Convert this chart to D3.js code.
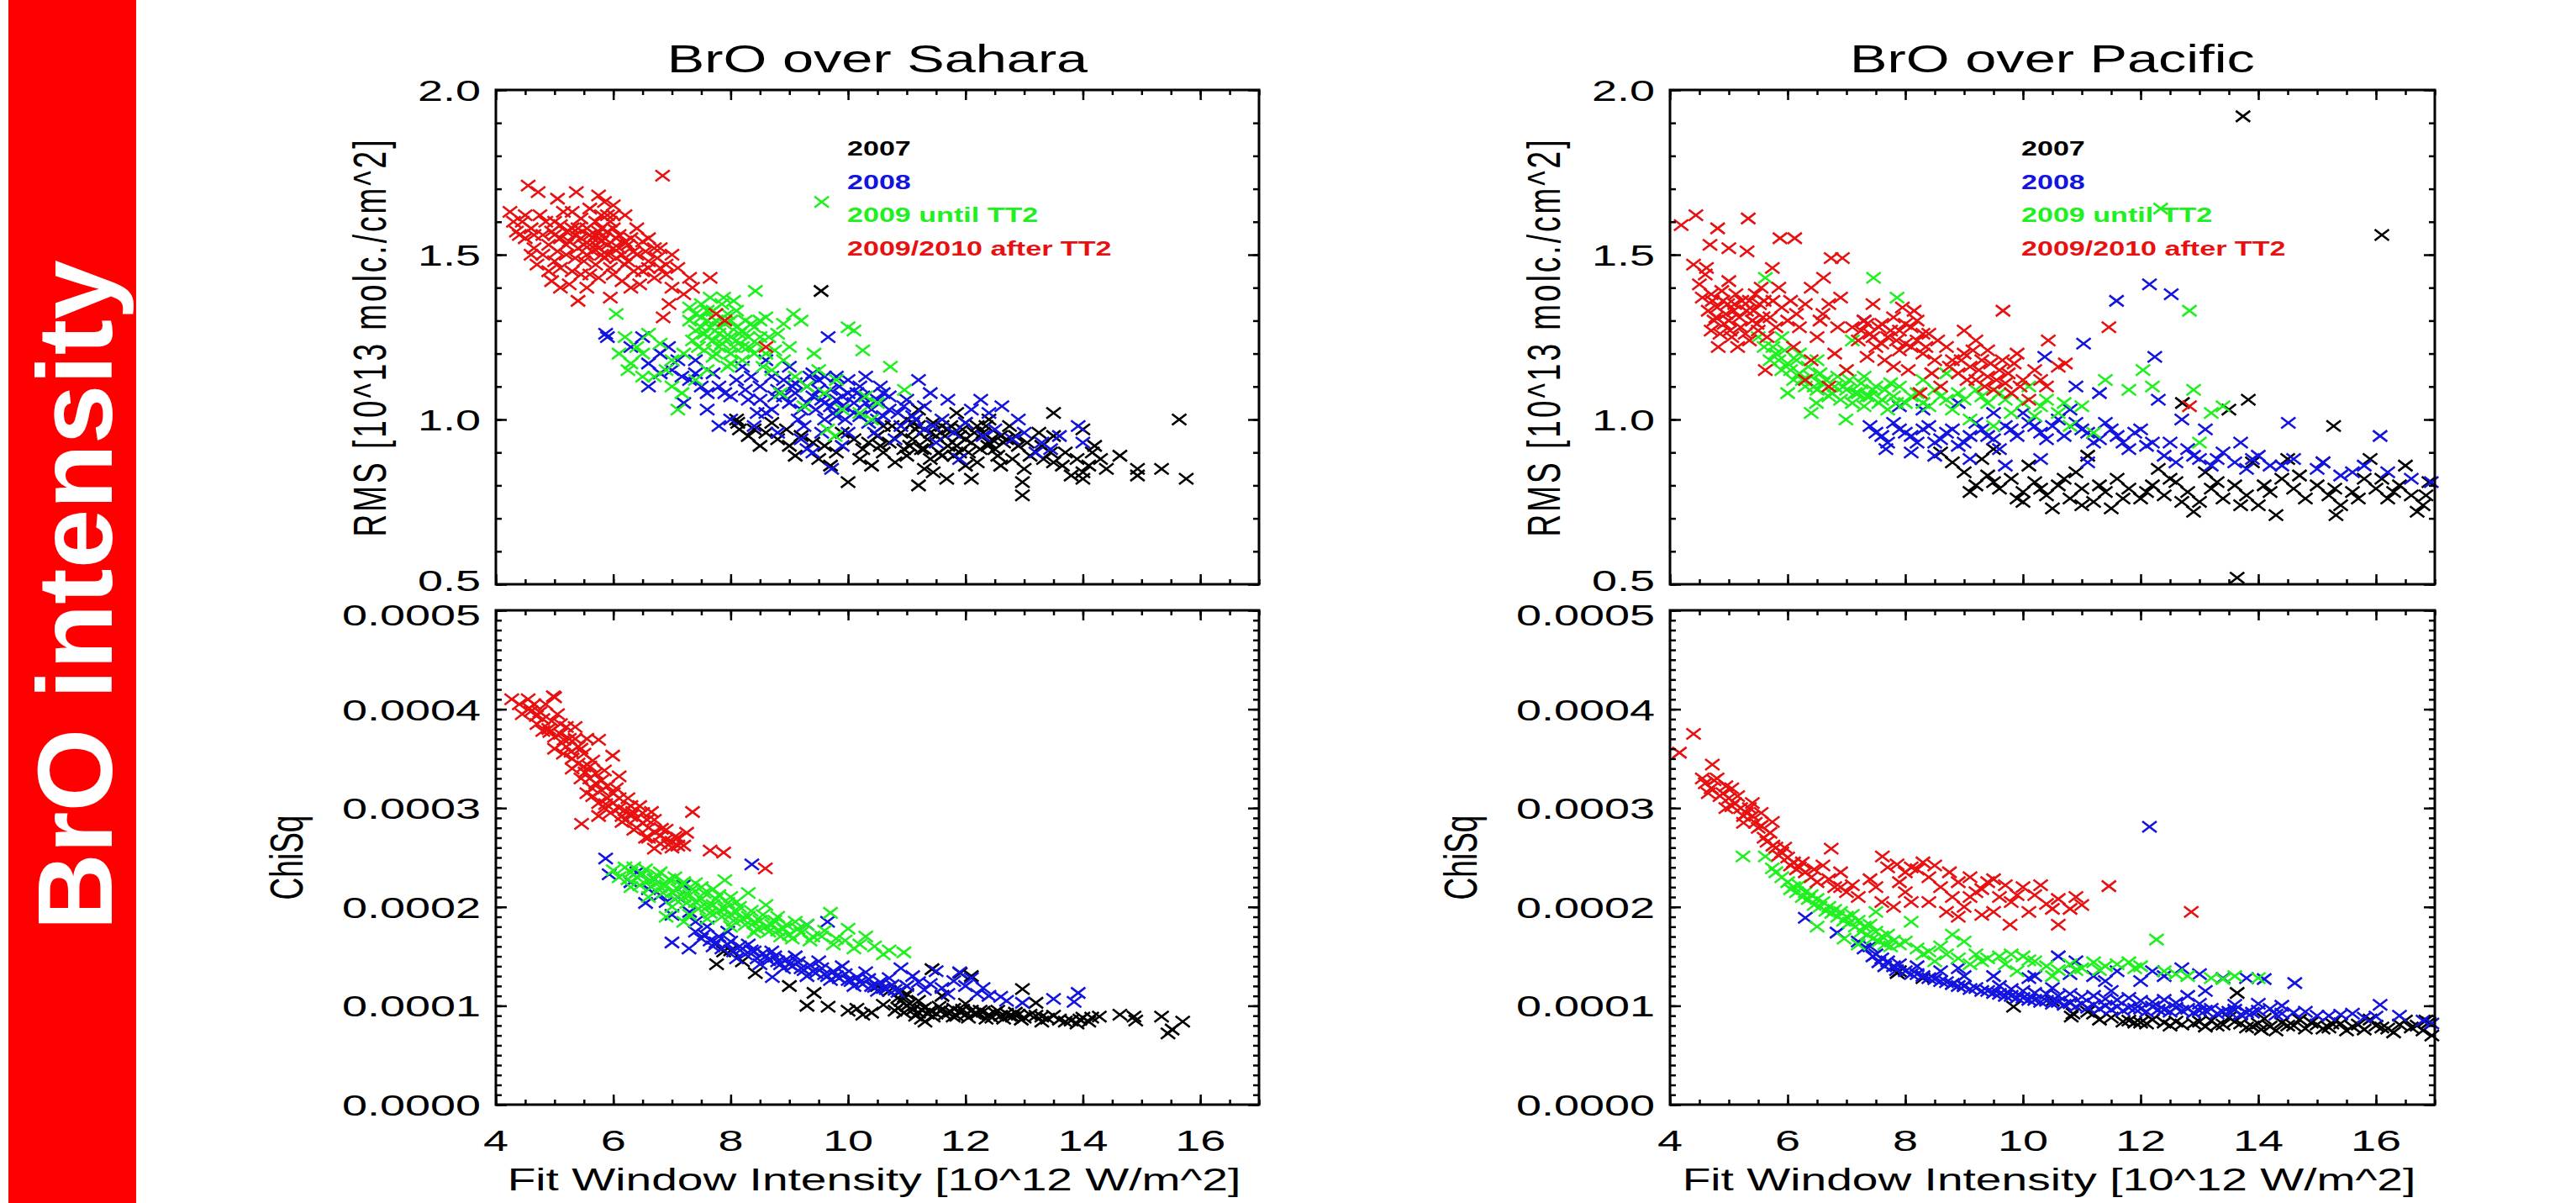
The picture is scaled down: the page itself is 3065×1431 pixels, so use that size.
<!DOCTYPE html>
<html>
<head>
<meta charset="utf-8">
<script src="https://cdn.jsdelivr.net/npm/d3@7"></script>
<style>
  body { margin: 0; background: #fff; }
  svg { display: block; }
</style>
</head>
<body>
<svg id="fig" width="3065" height="1431"></svg>
<script>

// ---------- data (x = fit window intensity [10^12 W/m^2]) ----------
// RMS in 10^13 molc./cm^2, ChiSq in units of 1e-4

var years = ["2007", "2008", "2009 until TT2", "2009/2010 after TT2"];
var yearColors = ["#000000", "#1414e0", "#20f020", "#e81010"];

var xTickLabels = [4, 6, 8, 10, 12, 14, 16];
var rmsTickLabels = [0.5, 1.0, 1.5, 2.0];
var chiTickLabels = [0.0000, 0.0001, 0.0002, 0.0003, 0.0004, 0.0005];

// --- Sahara, RMS ---
var saharaRms2007 = [[9.54,1.39],[15.64,1.0],[15.76,0.82],[15.34,0.85],[14.93,0.85],[14.93,0.83],[14.63,0.89],[14.0,0.84],[14.0,0.82],
  [12.97,0.81],[12.97,0.77],[13.5,1.02],[11.68,0.82],[11.2,0.80],[10.0,0.81],[8.12,0.99],[8.15,0.97],[11.2,0.98],[10.25,0.91],
  [12.38,0.92],[13.33,0.88],[14.16,0.90],[8.95,0.97],[10.5,0.95],[10.7,0.93],[10.9,0.96],[11.1,0.94],[11.3,0.97],[11.5,0.95],
  [11.7,0.92],[11.9,0.95],[12.1,0.93],[12.3,0.96],[12.5,0.91],[12.7,0.94],[12.9,0.92],[13.1,0.89],[13.3,0.92],[13.5,0.87],
  [13.7,0.90],[13.9,0.88],[14.1,0.86],[14.3,0.88],[10.6,0.90],[10.8,0.87],[11.0,0.89],[11.4,0.88],[11.8,0.89],[12.2,0.87],
  [12.6,0.86],[13.0,0.85],[10.4,0.86],[10.2,0.88],[9.8,0.90],[9.6,0.92],[9.4,0.93],[9.2,0.95],[9.0,0.92],[8.8,0.94],[8.6,0.96],
  [8.4,0.97],[8.3,0.95],[9.7,0.86],[11.0,1.0],[11.6,0.98],[12.0,0.99],[12.4,1.0],[10.6,0.98],[11.2,1.03],[11.45,0.84],[12.1,0.82],
  [13.8,0.83],[14.4,0.85],[14.0,0.97],[13.5,0.95],[10.1,0.94],[11.85,1.02],[12.75,0.98],[9.9,0.96],[8.1,1.0],
  [11.05,0.92],[11.15,0.97],[11.25,0.91],[11.35,0.94],[11.45,0.99],[11.55,0.90],[11.65,0.95],[11.75,0.98],[11.85,0.92],
  [11.95,0.97],[12.05,0.90],[12.15,0.96],[12.25,0.91],[12.35,0.98],[12.45,0.94],[12.55,0.89],[12.65,0.93],[12.85,0.95],
  [13.05,0.93],[13.25,0.96],[13.45,0.90],[13.65,0.86],[10.95,0.91],[10.75,0.98],[10.55,0.92],[10.35,0.93],[9.5,0.88],[9.1,0.89],
  [8.7,0.99],[8.5,0.92],[11.3,0.85],[12.0,0.86],[12.8,0.88],[14.2,0.92],[11.1,0.99],[11.4,0.96],[11.7,0.97],[12.0,0.94],
  [12.2,0.98],[12.4,0.93],[12.6,0.95],[11.3,0.91],[11.6,0.89],[11.9,0.90]];
var saharaRms2008 = [[5.87,1.26],[5.9,1.25],[9.66,1.25],[7.17,1.13],[6.94,1.22],[11.2,1.12],[11.4,1.08],[12.26,1.06],[12.62,1.04],
  [13.92,0.98],[9.72,0.85],[9.30,0.91],[13.45,0.91],[11.9,0.88],[6.5,1.25],[6.8,1.20],[6.3,1.22],[6.6,1.17],[7.0,1.15],[7.3,1.12],
  [7.5,1.10],[7.7,1.14],[7.9,1.08],[8.1,1.12],[8.3,1.06],[8.5,1.10],[8.7,1.13],[8.9,1.07],[9.1,1.11],[9.3,1.05],[9.5,1.09],
  [9.7,1.04],[9.9,1.07],[10.1,1.02],[10.3,1.05],[10.5,1.00],[10.7,1.03],[10.9,0.98],[11.1,1.01],[11.3,0.97],[11.6,1.00],
  [11.8,0.96],[12.0,0.99],[12.3,0.95],[12.5,0.97],[12.8,0.94],[13.0,0.96],[13.3,0.93],[13.6,0.95],[14.0,0.93],[7.2,1.05],
  [7.6,1.03],[8.0,1.00],[8.4,0.98],[8.8,0.96],[9.2,0.94],[9.6,1.00],[10.0,0.96],[8.2,1.16],[8.6,1.18],[9.0,1.16],[9.4,1.14],
  [9.8,1.13],[10.2,1.10],[10.6,1.08],[11.0,1.06],[7.4,1.18],[6.6,1.10],[8.7,1.03],[9.15,1.00],[9.55,1.06],[9.85,1.10],
  [10.35,0.99],[8.25,1.09],[7.8,0.98],[10.8,0.94],[11.5,0.93],[12.1,1.03],[12.9,1.00],[13.2,0.90],
  [8.8,1.09],[8.9,1.12],[9.0,1.05],[9.1,1.08],[9.2,1.03],[9.3,1.10],[9.4,1.07],[9.45,1.03],[9.5,1.12],[9.6,1.05],[9.7,1.09],
  [9.75,1.02],[9.8,1.06],[9.9,1.04],[9.95,1.00],[10.0,1.08],[10.1,1.05],[10.2,1.01],[10.25,1.07],[10.4,1.03],[10.5,1.06],
  [10.6,1.01],[8.5,1.06],[8.6,1.02],[8.35,1.13],[8.0,1.07],[7.8,1.10],[7.6,1.08],[7.4,1.14],[7.1,1.18],[6.8,1.14],[9.25,0.98],
  [9.55,0.96],[10.45,0.96],[11.3,1.04],[11.7,1.06],[12.4,1.02],[9.9,0.92],[9.4,0.90],
  [9.6,1.13],[9.8,1.01],[10.0,1.12],[10.15,1.08],[10.3,1.13],[10.55,1.10],[10.7,1.07],[10.85,1.02],[9.35,1.13],[9.05,1.10],
  [8.75,1.07],[8.45,1.02],[10.95,1.04],[11.15,1.00],[11.45,0.98]];
var saharaRms2009 = [[9.55,1.66],[8.42,1.39],[7.88,1.37],[6.05,1.32],[9.07,1.32],[10.0,1.28],[10.25,1.21],[10.72,1.16],[9.42,1.20],
  [6.4,1.22],[6.7,1.13],[7.17,1.08],[9.78,0.95],[10.96,1.09],[8.9,1.29],[9.2,1.30],[8.6,1.31],[8.8,1.26],[9.0,1.22],[9.5,1.15],
  [9.8,1.12],[10.3,1.07],[10.5,1.05],[10.1,1.27],[6.2,1.25],[6.5,1.20],[6.6,1.26],[6.8,1.23],[7.0,1.18],[6.3,1.17],[6.1,1.20],
  [7.4,1.32],[7.5,1.35],[7.6,1.30],[7.7,1.33],[7.8,1.28],[7.9,1.25],[8.0,1.30],[8.1,1.24],[8.2,1.27],[8.3,1.22],[8.4,1.20],
  [7.5,1.28],[7.6,1.25],[7.8,1.22],[8.0,1.20],[8.2,1.18],[8.5,1.25],[8.6,1.20],[8.7,1.15],[7.3,1.30],[7.45,1.22],[7.7,1.19],
  [7.95,1.16],[8.1,1.33],[8.35,1.29],[8.55,1.16],[8.9,1.18],[9.1,1.13],[9.3,1.10],[9.6,1.08],[9.9,1.03],[10.2,1.02],[7.2,1.20],
  [7.0,1.10],[7.4,1.12],[7.6,1.15],[7.1,1.03],[8.85,1.08],[9.25,1.04],[9.65,0.97],[10.4,1.0],[7.85,1.35],[8.05,1.36],[7.65,1.37],
  [7.5,1.31],[7.55,1.26],[7.6,1.33],[7.65,1.28],[7.7,1.24],[7.75,1.30],[7.8,1.26],[7.85,1.23],[7.9,1.29],[7.95,1.32],[8.0,1.25],
  [8.05,1.22],[8.1,1.28],[8.15,1.26],[8.2,1.22],[8.25,1.30],[8.3,1.25],[8.4,1.28],[8.45,1.23],[7.4,1.27],[7.35,1.24],[7.55,1.21],
  [7.75,1.20],[8.0,1.17],[7.3,1.34],[8.5,1.30],[8.65,1.25],[8.75,1.21],[6.9,1.15],[6.5,1.13],[6.25,1.15]];
var saharaRms2010 = [[4.24,1.63],[4.55,1.71],[4.72,1.69],[5.05,1.67],[5.37,1.69],[6.84,1.74],[4.45,1.60],[4.35,1.57],[5.75,1.68],
  [5.85,1.66],[6.0,1.65],[5.6,1.64],[6.2,1.62],[6.4,1.58],[6.6,1.55],[6.8,1.52],[7.0,1.50],[6.9,1.47],[7.3,1.43],[7.65,1.43],
  [6.95,1.35],[6.85,1.31],[7.35,1.40],[7.75,1.32],[7.9,1.30],[8.6,1.22],[5.4,1.36],[5.95,1.37],[6.3,1.40],[5.1,1.40],[4.9,1.45],
  [4.6,1.50],[4.5,1.55],[4.6,1.58],[4.8,1.56],[4.9,1.53],[5.0,1.60],[5.1,1.55],[5.2,1.50],[5.3,1.58],[5.4,1.52],[5.5,1.48],
  [5.6,1.56],[5.7,1.60],[5.8,1.54],[5.9,1.50],[6.0,1.58],[6.1,1.52],[6.2,1.47],[6.3,1.55],[6.4,1.50],[6.5,1.45],[6.6,1.48],
  [6.7,1.43],[5.0,1.48],[5.3,1.45],[5.6,1.44],[5.8,1.62],[5.9,1.57],[5.75,1.52],[5.85,1.49],[6.05,1.55],[5.65,1.51],[4.75,1.62],
  [5.15,1.63],[5.45,1.61],[4.95,1.42],[5.25,1.41],[5.55,1.40],[6.15,1.42],[6.45,1.41],[6.9,1.44],[7.1,1.46],[4.7,1.47],[5.05,1.51],
  [5.35,1.49],[5.95,1.46],[6.25,1.53],[6.55,1.51],[6.75,1.49],[5.7,1.47],[5.5,1.53],[5.2,1.57],
  [4.5,1.62],[4.65,1.56],[4.85,1.60],[4.95,1.57],[5.1,1.59],[5.25,1.54],[5.35,1.56],[5.45,1.55],[5.55,1.58],[5.65,1.55],
  [5.7,1.53],[5.75,1.57],[5.8,1.50],[5.85,1.55],[5.9,1.53],[5.95,1.60],[6.0,1.52],[6.05,1.49],[6.1,1.56],[6.15,1.50],[6.2,1.54],
  [6.25,1.48],[6.35,1.51],[6.5,1.54],[6.6,1.46],[6.7,1.52],[6.8,1.46],[5.55,1.50],[5.6,1.53],[5.7,1.56],[5.8,1.58],[5.9,1.62],
  [6.0,1.62],[5.4,1.58],[5.2,1.53],[5.0,1.56],[4.8,1.50],[4.65,1.52],[4.4,1.56],[4.3,1.60],[5.3,1.63],[5.1,1.46],[5.45,1.44],
  [5.75,1.43],[6.0,1.44],[6.35,1.45],[7.2,1.38],[7.0,1.40]];

// --- Sahara, ChiSq (1e-4) ---
var saharaChi2007 = [[7.88,1.55],[7.76,1.42],[8.0,1.56],[8.42,1.33],[9.42,1.13],[9.66,0.99],[10.25,0.91],[10.60,1.01],[10.96,1.09],
  [11.31,0.84],[11.79,0.89],[11.91,1.33],[11.43,1.37],[12.97,1.17],[13.2,1.03],[14.28,0.89],[14.63,0.91],[14.87,0.89],[14.9,0.85],
  [15.34,0.89],[15.52,0.76],[15.45,0.72],[15.70,0.84],[10.0,0.95],[10.4,0.93],[10.8,0.95],[10.9,1.05],[11.0,1.00],[11.1,0.96],
  [11.2,0.93],[11.3,0.98],[11.4,0.95],[11.5,0.92],[11.6,0.96],[11.7,0.93],[11.8,0.97],[11.9,0.94],[12.0,0.91],[12.1,0.95],
  [12.2,0.92],[12.3,0.94],[12.4,0.91],[12.5,0.93],[12.6,0.90],[12.7,0.92],[12.8,0.89],[12.9,0.91],[13.0,0.88],[13.2,0.90],
  [13.4,0.87],[13.6,0.86],[13.8,0.85],[14.0,0.88],[14.1,0.84],[13.9,0.82],[11.0,1.12],[10.7,1.15],[10.5,1.20],[11.2,1.05],
  [12.0,1.02],[11.6,1.10],[12.1,1.30],[8.2,1.45],[9.0,1.20],[9.3,1.00],[10.15,0.97],[11.25,0.87],[12.35,0.87],[13.3,0.84],
  [10.85,0.98],[10.95,0.93],[11.05,1.02],[11.15,0.90],[11.25,0.96],[11.35,0.92],[11.45,0.89],[11.55,0.99],[11.65,0.91],
  [11.75,0.94],[11.85,0.90],[11.95,0.96],[12.05,0.88],[12.15,0.92],[12.25,0.95],[12.45,0.88],[12.55,0.95],[12.65,0.87],
  [12.75,0.90],[12.85,0.93],[12.95,0.86],[13.1,0.91],[13.3,0.89],[13.5,0.90],[13.7,0.84],[13.95,0.86],[14.15,0.88],[10.9,1.15],
  [10.85,1.08]];
var saharaChi2008 = [[5.87,2.49],[5.93,2.33],[6.55,2.04],[7.0,1.64],[7.29,1.58],[8.36,2.43],[9.30,1.82],[8.71,1.29],[12.97,1.03],
  [13.5,1.07],[13.92,1.13],[13.85,1.04],[6.3,2.25],[6.6,2.18],[6.9,2.05],[7.1,2.10],[7.3,1.95],[7.6,1.80],[7.8,1.70],[8.0,1.65],
  [8.2,1.58],[8.4,1.55],[8.6,1.50],[8.8,1.45],[9.0,1.42],[9.2,1.38],[9.4,1.35],[9.6,1.32],[9.8,1.30],[10.0,1.26],[10.2,1.24],
  [10.4,1.20],[10.6,1.18],[10.8,1.16],[11.0,1.20],[11.2,1.24],[11.4,1.22],[11.6,1.18],[11.8,1.25],[12.0,1.20],[12.2,1.12],
  [12.4,1.10],[12.6,1.09],[8.1,1.48],[8.5,1.42],[8.9,1.38],[9.3,1.30],[9.7,1.26],[10.1,1.20],[10.5,1.15],[9.5,1.45],[9.9,1.40],
  [10.3,1.34],[10.7,1.28],[11.1,1.30],[11.5,1.35],[9.1,1.50],[8.7,1.55],[8.3,1.62],[7.7,1.60],[7.95,1.75],[12.1,1.28],[11.9,1.34],
  [10.9,1.38],[9.65,1.85],[7.5,1.68],[7.2,2.22],[6.4,2.35],[6.7,2.28],
  [7.4,1.75],[7.55,1.72],[7.65,1.66],[7.75,1.64],[7.85,1.58],[7.95,1.62],[8.05,1.55],[8.15,1.60],[8.25,1.52],[8.35,1.56],
  [8.45,1.48],[8.55,1.53],[8.65,1.46],[8.75,1.50],[8.85,1.42],[8.95,1.47],[9.05,1.40],[9.15,1.44],[9.25,1.36],[9.35,1.41],
  [9.45,1.33],[9.55,1.38],[9.65,1.30],[9.75,1.35],[9.85,1.28],[9.95,1.32],[10.05,1.25],[10.15,1.29],[10.25,1.22],[10.35,1.27],
  [10.45,1.19],[10.55,1.24],[10.65,1.17],[10.75,1.21],[10.85,1.14],[11.3,1.16],[11.7,1.12],[12.3,1.18],[12.7,1.05],[6.8,2.12],
  [7.0,1.92],[7.4,1.85]];
var saharaChi2009 = [[6.0,2.37],[6.2,2.40],[6.3,2.35],[6.4,2.30],[6.5,2.33],[6.6,2.26],[6.7,2.28],[6.8,2.20],[6.9,2.22],[7.0,2.15],
  [7.1,2.18],[7.2,2.10],[7.3,2.12],[7.4,2.05],[7.5,2.08],[7.6,2.00],[7.7,2.02],[7.8,1.96],[7.9,1.98],[8.0,1.92],[8.1,1.95],
  [8.2,1.88],[8.3,1.90],[8.4,1.84],[8.5,1.86],[8.6,1.80],[8.7,1.82],[8.8,1.76],[8.9,1.78],[9.0,1.72],[9.2,1.74],[9.4,1.70],
  [9.6,1.76],[9.7,1.94],[9.8,1.68],[10.0,1.78],[10.2,1.62],[10.3,1.70],[10.7,1.56],[10.95,1.54],[7.9,2.27],[8.3,2.14],[8.6,2.02],
  [9.3,1.82],[6.3,2.20],[6.6,2.10],[7.0,2.00],[7.3,1.92],[7.6,1.88],[8.0,1.80],[8.4,1.74],[7.2,2.25],[7.5,2.20],[7.8,2.12],
  [8.1,2.05],[8.8,1.90],[9.1,1.85],[6.8,2.35],[7.2,1.85],[6.9,1.90],
  [6.1,2.30],[6.25,2.28],[6.35,2.40],[6.45,2.22],[6.55,2.38],[6.65,2.20],[6.75,2.32],[6.85,2.14],[6.95,2.28],[7.05,2.08],
  [7.15,2.22],[7.25,2.04],[7.35,2.18],[7.45,1.98],[7.55,2.14],[7.65,1.94],[7.75,2.08],[7.85,1.90],[7.95,2.04],[8.05,1.86],
  [8.15,2.00],[8.25,1.82],[8.35,1.96],[8.45,1.78],[8.55,1.92],[8.65,1.75],[8.75,1.86],[8.85,1.70],[8.95,1.82],[9.05,1.68],
  [9.15,1.78],[9.35,1.66],[9.55,1.70],[9.75,1.62],[9.95,1.66],[10.1,1.58],[10.45,1.60],[10.6,1.52],[7.05,2.30],[7.4,2.24],
  [7.7,2.18],[8.0,2.10]];
var saharaChi2010 = [[4.27,4.10],[4.98,4.13],[4.57,4.01],[4.69,3.93],[4.92,3.77],[5.16,3.69],[5.28,3.57],[5.52,3.36],[5.75,3.69],
  [5.99,3.53],[5.64,3.20],[5.87,3.04],[6.10,3.32],[6.33,2.96],[6.58,2.88],[6.82,2.79],[7.05,2.71],[7.35,2.96],[6.94,2.63],
  [7.65,2.57],[7.88,2.55],[8.59,2.39],[5.46,2.84],[5.75,2.92],[6.70,2.59],[4.4,4.05],[4.6,3.98],[4.7,3.85],[4.8,3.90],[4.9,3.80],
  [5.0,3.72],[5.1,3.75],[5.2,3.62],[5.3,3.50],[5.4,3.45],[5.5,3.42],[5.6,3.30],[5.7,3.25],[5.8,3.18],[5.9,3.10],[6.0,3.05],
  [6.1,3.00],[6.2,2.98],[6.3,2.92],[6.4,2.90],[6.5,2.85],[6.6,2.80],[6.7,2.76],[6.8,2.72],[6.9,2.68],[7.0,2.66],[7.1,2.70],
  [7.2,2.62],[5.05,3.95],[5.2,3.82],[5.45,3.60],[5.65,3.48],[5.85,3.38],[6.05,3.20],[6.25,3.10],[6.45,3.02],[6.65,2.96],
  [5.55,3.15],[5.75,3.05],[6.15,2.86],[6.35,2.78],[6.55,2.70],[4.55,4.10],[4.85,4.05],[5.0,4.12],[5.35,3.70],
  [4.45,3.95],[4.65,4.05],[4.75,3.97],[4.8,3.78],[4.95,3.88],[5.0,3.60],[5.1,3.85],[5.15,3.55],[5.25,3.70],[5.3,3.40],[5.4,3.62],
  [5.45,3.30],[5.5,3.55],[5.6,3.42],[5.65,3.12],[5.7,3.35],[5.8,3.28],[5.85,3.00],[5.9,3.22],[6.0,3.15],[6.1,3.10],[6.2,2.88],
  [6.3,3.02],[6.4,2.80],[6.5,2.95],[6.6,2.70],[6.7,2.88],[6.8,2.64],[6.9,2.78],[7.0,2.60],[7.1,2.62],[7.25,2.75],[5.95,2.95],
  [6.15,2.92],[5.35,3.82],[5.55,3.70]];

// --- Pacific, RMS ---
var pacificRms2007 = [[13.74,1.92],[16.1,1.56],[13.64,0.52],[15.28,0.98],[13.83,1.06],[12.71,1.05],[13.5,1.03],[15.32,0.71],
  [8.8,0.87],[9.0,0.84],[9.2,0.80],[9.4,0.83],[9.6,0.79],[9.8,0.82],[10.0,0.78],[10.2,0.81],[10.4,0.77],[10.6,0.80],[10.8,0.76],
  [11.0,0.79],[11.2,0.75],[11.4,0.78],[11.6,0.82],[11.8,0.79],[12.0,0.76],[12.2,0.80],[12.4,0.77],[12.6,0.81],[12.8,0.78],
  [13.0,0.75],[13.2,0.79],[13.4,0.76],[13.6,0.80],[13.8,0.77],[14.0,0.74],[14.2,0.78],[14.4,0.82],[14.6,0.79],[14.8,0.76],
  [15.0,0.80],[15.2,0.77],[15.4,0.74],[15.6,0.78],[15.8,0.82],[16.0,0.79],[16.2,0.76],[16.4,0.80],[16.6,0.77],[16.8,0.74],
  [16.9,0.81],[9.3,0.88],[10.1,0.86],[10.9,0.84],[11.5,0.73],[12.3,0.85],[13.1,0.84],[13.9,0.87],[14.5,0.88],[15.1,0.87],
  [15.9,0.88],[16.5,0.86],[11.1,0.89],[12.9,0.72],[14.3,0.71],[16.7,0.72],[10.5,0.73],[8.6,0.90],[9.5,0.91],
  [9.1,0.78],[9.5,0.81],[9.9,0.76],[10.3,0.79],[10.7,0.82],[11.3,0.80],[11.7,0.76],[12.1,0.78],[12.5,0.82],[12.7,0.75],
  [13.3,0.81],[13.7,0.74],[14.1,0.80],[14.7,0.83],[15.3,0.79],[15.7,0.76],[16.1,0.82],[16.3,0.78],[16.85,0.77],[10.0,0.75],
  [11.0,0.74]];
var pacificRms2008 = [[7.3,1.30],[12.15,1.41],[11.59,1.36],[12.52,1.38],[11.03,1.23],[12.24,1.19],[10.37,1.19],[14.51,0.99],
  [16.07,0.95],[16.94,0.81],[7.67,0.91],[7.4,0.98],[7.6,0.95],[7.8,0.99],[8.0,0.96],[8.2,0.93],[8.4,0.98],[8.6,0.94],[8.8,0.97],
  [9.0,0.93],[9.2,0.99],[9.4,0.95],[9.6,0.91],[9.8,0.97],[10.0,1.02],[10.2,0.98],[10.4,0.94],[10.6,1.00],[10.8,1.03],[11.0,0.97],
  [11.2,0.93],[11.4,0.99],[11.6,0.95],[11.8,0.91],[12.0,0.97],[12.2,0.93],[12.4,0.89],[12.6,0.87],[12.8,0.91],[13.0,0.88],
  [13.2,0.86],[13.4,0.90],[13.6,0.87],[13.8,0.85],[14.0,0.89],[14.2,0.86],[14.6,0.88],[15.0,0.85],[15.4,0.83],[15.8,0.86],
  [16.2,0.84],[16.6,0.82],[8.1,0.90],[8.5,0.89],[9.1,0.88],[9.7,0.86],[8.3,1.03],[8.9,1.05],[9.5,1.02],[10.9,1.10],[11.3,1.08],
  [12.7,1.00],[13.1,0.97],[10.3,0.88],[11.1,0.87],[7.9,1.04],[12.3,1.06],[13.7,0.93],
  [7.5,0.96],[7.7,0.93],[7.9,0.97],[8.1,0.95],[8.3,0.97],[8.5,0.93],[8.7,0.96],[8.9,0.92],[9.1,0.95],[9.3,0.97],[9.5,0.94],
  [9.7,0.98],[9.9,0.95],[10.1,0.99],[10.3,0.96],[10.5,0.98],[10.7,0.95],[10.9,0.99],[11.1,0.96],[11.3,0.94],[11.5,0.97],
  [11.7,0.93],[11.9,0.96],[12.1,0.92],[12.5,0.93],[12.9,0.89],[13.3,0.88],[13.9,0.88],[14.4,0.86],[15.1,0.87],[15.6,0.84]];
var pacificRms2009 = [[5.62,1.43],[7.46,1.43],[7.86,1.37],[12.34,1.64],[12.83,1.33],[12.04,1.15],[6.99,1.0],[6.49,1.05],[5.5,1.25],
  [5.6,1.22],[5.7,1.18],[5.8,1.20],[5.9,1.15],[6.0,1.17],[6.1,1.12],[6.2,1.14],[6.3,1.10],[6.4,1.13],[6.5,1.09],[6.6,1.11],
  [6.7,1.07],[6.8,1.10],[6.9,1.06],[7.0,1.09],[7.1,1.05],[7.2,1.08],[7.3,1.04],[7.4,1.07],[7.5,1.10],[7.6,1.06],[7.7,1.03],
  [7.8,1.07],[7.9,1.10],[8.0,1.05],[8.2,1.08],[8.4,1.04],[8.6,1.07],[8.8,1.03],[9.0,1.06],[9.2,1.09],[9.4,1.05],[9.6,1.08],
  [9.8,1.02],[10.0,1.05],[10.2,1.01],[10.4,1.06],[10.6,1.02],[10.8,0.98],[11.0,1.04],[11.4,1.12],[11.8,1.09],[12.2,1.10],
  [12.9,1.09],[13.2,1.02],[13.4,1.04],[13.0,0.93],[5.9,1.25],[6.2,1.20],[6.5,1.18],[6.0,1.08],[7.0,1.15],[7.3,1.13],[8.3,1.12],
  [8.7,1.14],[9.1,1.00],[10.1,1.10],[7.1,1.24],[6.4,1.02],[11.2,0.96],[9.5,0.98],
  [5.75,1.22],[5.85,1.18],[5.95,1.21],[6.05,1.15],[6.15,1.18],[6.25,1.12],[6.35,1.16],[6.45,1.10],[6.55,1.14],[6.65,1.12],
  [6.75,1.08],[6.85,1.13],[6.95,1.10],[7.05,1.12],[7.15,1.08],[7.25,1.11],[7.35,1.07],[7.45,1.09],[7.55,1.05],[7.65,1.09],
  [7.75,1.11],[7.85,1.05],[8.1,1.07],[8.3,1.05],[8.5,1.09],[8.7,1.06],[8.9,1.08],[9.3,1.07],[9.7,1.06],[10.3,1.04],[10.7,1.05]];
var pacificRms2010 = [[4.19,1.59],[4.44,1.62],[4.81,1.58],[5.33,1.61],[4.68,1.53],[5.0,1.52],[5.31,1.51],[5.87,1.55],[6.12,1.55],
  [6.74,1.49],[6.93,1.49],[6.61,1.43],[5.74,1.46],[4.50,1.41],[4.62,1.46],[5.62,1.15],[9.66,1.33],[11.46,1.28],[10.72,1.17],
  [10.43,1.24],[12.83,1.04],[4.4,1.47],[4.55,1.37],[4.7,1.38],[4.8,1.34],[4.9,1.36],[5.0,1.30],[5.1,1.35],[5.2,1.28],[4.75,1.30],
  [4.85,1.26],[4.95,1.32],[5.05,1.25],[5.3,1.33],[5.4,1.30],[5.5,1.27],[5.6,1.36],[5.7,1.31],[5.8,1.28],[5.9,1.34],[6.0,1.30],
  [5.45,1.38],[5.65,1.25],[4.65,1.33],[5.15,1.22],[5.55,1.40],[5.0,1.42],[4.6,1.44],[6.2,1.28],[6.3,1.35],[6.5,1.25],[6.6,1.32],
  [6.8,1.20],[6.9,1.37],[6.4,1.18],[6.1,1.22],[7.0,1.15],[6.7,1.10],[6.3,1.12],[6.85,1.28],[7.1,1.28],[7.2,1.24],[7.3,1.30],
  [7.4,1.26],[7.5,1.22],[7.6,1.29],[7.7,1.25],[7.8,1.31],[7.9,1.27],[8.0,1.23],[8.1,1.28],[8.2,1.24],[8.3,1.20],[8.4,1.26],
  [7.35,1.19],[7.65,1.18],[7.95,1.34],[8.15,1.33],[8.5,1.18],[7.8,1.16],[8.05,1.15],[7.45,1.35],[8.7,1.22],[8.8,1.18],[8.9,1.14],
  [9.0,1.20],[9.1,1.16],[9.2,1.12],[9.3,1.18],[9.4,1.13],[9.5,1.09],[9.6,1.15],[9.7,1.11],[9.8,1.08],[10.0,1.12],[10.2,1.15],
  [10.4,1.10],[9.0,1.27],[9.2,1.24],[8.6,1.10],[9.4,1.21],[10.1,1.06],[10.6,1.16],[9.9,1.20],[8.45,1.14],[8.25,1.08],
  [4.72,1.36],[4.78,1.31],[4.88,1.39],[4.92,1.29],[4.98,1.35],[5.02,1.27],[5.08,1.33],[5.12,1.38],[5.18,1.31],[5.22,1.36],
  [5.28,1.26],[5.35,1.36],[5.42,1.33],[5.48,1.29],[5.52,1.35],[5.58,1.31],[4.82,1.22],[4.7,1.27],[5.35,1.24],[5.75,1.36],
  [5.85,1.40],[6.05,1.36],[6.15,1.32],[6.4,1.40],[6.55,1.30],[6.7,1.35],[7.25,1.27],[7.35,1.29],[7.45,1.25],[7.55,1.28],
  [7.6,1.23],[7.75,1.27],[7.85,1.24],[7.9,1.21],[8.0,1.29],[8.1,1.22],[8.2,1.30],[8.3,1.26],[8.35,1.22],[8.55,1.24],[8.75,1.16],
  [8.95,1.18],[9.05,1.12],[9.15,1.21],[9.25,1.15],[9.35,1.10],[9.45,1.17],[9.55,1.12],[9.65,1.18],[9.75,1.14],[9.85,1.17],
  [9.95,1.10],[10.3,1.12]];

// --- Pacific, ChiSq (1e-4) ---
var pacificChi2007 = [[7.86,1.33],[7.9,1.35],[8.3,1.28],[8.8,1.22],[9.0,1.20],[9.84,0.99],[10.82,0.89],[10.85,0.92],[13.64,1.13],
  [10.5,1.05],[10.8,1.03],[11.2,0.92],[11.5,0.88],[11.8,0.85],[12.0,0.83],[12.2,0.86],[12.6,0.84],[12.9,0.82],[13.2,0.85],
  [13.4,0.81],[13.6,0.84],[13.8,0.78],[14.0,0.82],[14.2,0.79],[14.4,0.83],[14.6,0.80],[14.8,0.77],[15.0,0.81],[15.2,0.78],
  [15.4,0.82],[15.6,0.79],[15.8,0.76],[16.0,0.80],[16.2,0.77],[16.4,0.81],[16.6,0.78],[16.8,0.75],[16.95,0.70],[16.9,0.83],
  [16.5,0.85],[15.9,0.86],[15.3,0.85],[14.7,0.86],[14.1,0.87],[13.5,0.88],[12.5,0.80],[13.1,0.79],[14.3,0.75],[15.5,0.75],
  [16.3,0.73],[11.9,0.83],[11.1,0.94],
  [11.3,0.86],[11.7,0.84],[12.1,0.82],[12.4,0.83],[12.7,0.81],[13.0,0.84],[13.3,0.80],[13.7,0.82],[13.9,0.79],[14.5,0.80],
  [14.9,0.83],[15.1,0.77],[15.7,0.81],[16.1,0.78],[16.7,0.80],[16.85,0.85],[14.05,0.76],[15.25,0.82]];
var pacificChi2008 = [[6.30,1.89],[6.84,1.74],[12.15,2.81],[14.62,1.23],[16.07,1.01],[7.2,1.65],[7.3,1.58],[7.4,1.60],[7.5,1.52],
  [7.6,1.48],[7.7,1.45],[7.8,1.40],[7.9,1.42],[8.0,1.35],[8.2,1.32],[8.4,1.28],[8.6,1.25],[8.8,1.22],[9.0,1.20],[9.2,1.18],
  [9.4,1.15],[9.6,1.12],[9.8,1.10],[10.0,1.08],[10.2,1.06],[10.4,1.05],[10.6,1.04],[10.8,1.03],[11.0,1.02],[11.2,1.01],[11.4,1.00],
  [11.6,0.99],[11.8,0.98],[12.0,0.97],[12.2,0.99],[12.4,0.96],[12.6,0.98],[12.8,0.97],[13.0,0.95],[13.2,0.97],[13.4,0.94],
  [13.6,0.96],[13.8,0.93],[14.0,0.95],[14.2,0.97],[14.4,0.92],[14.8,0.94],[15.2,0.90],[15.6,0.92],[16.0,0.89],[16.4,0.90],
  [16.8,0.85],[16.95,0.82],[10.6,1.50],[10.9,1.45],[11.2,1.30],[11.6,1.35],[12.0,1.25],[12.4,1.30],[12.7,1.38],[13.4,1.28],
  [13.8,1.28],[14.1,1.27],[9.5,1.30],[10.1,1.28],[8.9,1.38],[10.5,1.18],[11.5,1.15],[12.8,1.10],[13.1,1.15],
  [7.45,1.50],[7.55,1.44],[7.65,1.40],[7.85,1.36],[8.1,1.32],[8.3,1.30],[8.5,1.27],[8.7,1.24],[8.9,1.20],[9.1,1.17],[9.3,1.15],
  [9.5,1.13],[9.7,1.10],[9.9,1.08],[10.1,1.06],[10.3,1.04],[10.5,1.02],[10.7,1.01],[10.9,0.99],[11.1,0.98],[11.3,0.97],
  [11.5,0.96],[11.7,0.95],[11.9,0.97],[12.1,0.94],[12.3,0.96],[12.5,0.94],[12.7,0.95],[12.9,0.93],[13.1,0.95],[13.3,0.92],
  [13.5,0.94],[13.7,0.91],[13.9,0.93],[14.3,0.91],[14.6,0.93],[15.0,0.90],[15.4,0.91],[15.8,0.88],
  [9.6,1.20],[9.8,1.17],[10.0,1.15],[10.2,1.13],[10.4,1.12],[10.6,1.10],[10.8,1.12],[11.0,1.09],[11.2,1.10],[11.4,1.07],
  [11.6,1.06],[11.8,1.08],[12.0,1.05],[12.2,1.04],[12.4,1.06],[12.6,1.03],[13.0,1.02],[13.6,1.01],[14.0,1.02],[14.4,1.00],
  [10.2,1.30],[10.8,1.32],[11.4,1.25],[12.2,1.35],[13.0,1.32],[8.2,1.40],[8.6,1.35],[9.0,1.30]];
var pacificChi2009 = [[5.24,2.51],[5.62,2.51],[5.74,2.39],[5.8,2.35],[5.9,2.30],[6.0,2.25],[6.1,2.20],[6.2,2.22],[6.3,2.15],
  [6.4,2.12],[6.5,2.08],[6.6,2.05],[6.7,2.00],[6.8,1.97],[6.9,1.95],[7.0,1.90],[7.1,1.92],[7.2,1.86],[7.3,1.80],[7.4,1.82],
  [7.5,1.75],[7.6,1.70],[7.7,1.72],[7.8,1.66],[7.9,1.62],[8.0,1.65],[8.2,1.58],[8.4,1.55],[8.6,1.60],[8.8,1.72],[9.0,1.65],
  [9.2,1.52],[9.4,1.48],[9.6,1.50],[9.8,1.52],[10.0,1.50],[10.2,1.45],[10.4,1.40],[10.6,1.36],[10.8,1.42],[11.0,1.38],
  [11.2,1.44],[11.4,1.40],[11.6,1.42],[11.8,1.44],[12.0,1.40],[12.27,1.67],[12.4,1.35],[12.8,1.30],[13.2,1.28],[13.6,1.30],
  [14.0,1.28],[6.96,1.68],[7.2,1.62],[6.5,1.80],[8.5,1.45],[9.1,1.42],[9.9,1.35],[10.5,1.30],[7.5,1.95],[8.1,1.85],[8.7,1.52],
  [6.05,2.18],[6.15,2.15],[6.25,2.10],[6.35,2.08],[6.45,2.02],[6.55,2.00],[6.65,1.96],[6.75,1.94],[6.85,1.90],[6.95,1.86],
  [7.05,1.84],[7.15,1.80],[7.25,1.75],[7.35,1.72],[7.45,1.68],[7.55,1.65],[7.65,1.62],[7.75,1.60],[8.3,1.52],[8.9,1.48],
  [9.3,1.45],[9.7,1.42],[10.1,1.46],[10.9,1.36],[11.3,1.36],[11.9,1.38],[12.6,1.32],[13.4,1.27]];
var pacificChi2010 = [[4.16,3.56],[4.40,3.75],[4.72,3.44],[4.6,3.25],[4.7,3.20],[4.8,3.30],[4.9,3.15],[5.0,3.10],[5.1,3.05],
  [5.2,3.00],[5.3,2.95],[5.4,2.92],[5.5,2.80],[5.6,2.70],[5.7,2.75],[5.74,2.86],[5.8,2.60],[5.9,2.55],[6.0,2.50],[6.1,2.45],
  [6.2,2.40],[6.3,2.35],[6.4,2.30],[6.5,2.25],[6.6,2.42],[6.74,2.59],[6.8,2.20],[7.0,2.15],[7.2,2.10],[7.4,2.28],[7.6,2.05],
  [7.61,2.51],[7.86,2.43],[7.7,2.40],[8.0,2.35],[8.2,2.38],[8.4,2.30],[8.6,2.20],[8.8,2.10],[9.0,2.00],[8.7,1.95],[8.9,1.90],
  [9.2,2.15],[9.4,2.25],[9.6,2.10],[9.8,2.05],[10.0,2.20],[10.2,2.12],[10.4,2.03],[10.6,2.08],[10.8,1.98],[11.0,2.02],
  [11.46,2.21],[12.86,1.95],[10.6,1.82],[9.78,1.82],[9.5,1.95],[8.1,2.05],[7.8,2.00],[8.3,2.45],[7.5,2.20],[9.1,2.30],[9.3,1.92],
  [10.1,1.95],[6.9,2.35],[5.4,3.05],[5.05,3.20],[4.95,3.00],[5.25,2.85],[5.55,2.95],
  [4.55,3.30],[4.65,3.15],[4.75,3.28],[4.85,3.12],[4.95,3.22],[5.05,3.02],[5.15,3.12],[5.25,2.92],[5.35,3.00],[5.45,2.85],
  [5.55,2.82],[5.65,2.66],[5.75,2.62],[5.85,2.52],[5.95,2.60],[6.05,2.42],[6.15,2.38],[6.25,2.45],[6.45,2.38],[6.7,2.28],
  [6.9,2.20],[7.1,2.22],[7.9,2.25],[8.1,2.40],[8.5,2.42],[8.9,2.25],[9.1,2.10],[9.3,2.18],[9.5,2.28],[9.7,2.22],[9.9,2.12],
  [10.3,2.22],[10.5,1.98],[10.9,2.10],[8.0,2.15],[8.4,2.05],[8.75,2.35]];

// ---------- layout ----------
var panels = [
  { left: 590, right: 1498, title: "BrO over Sahara",
    rms: [saharaRms2007, saharaRms2008, saharaRms2009, saharaRms2010],
    chi: [saharaChi2007, saharaChi2008, saharaChi2009, saharaChi2010] },
  { left: 1987, right: 2897, title: "BrO over Pacific",
    rms: [pacificRms2007, pacificRms2008, pacificRms2009, pacificRms2010],
    chi: [pacificChi2007, pacificChi2008, pacificChi2009, pacificChi2010] }
];
var rowTop = { top: 107, bottom: 695 };
var rowBot = { top: 726, bottom: 1314 };

var svg = d3.select("#fig");
var FONT = "'Liberation Sans', Arial, sans-serif";

// red side banner
svg.append("rect").attr("x", 10).attr("y", 0).attr("width", 152).attr("height", 1431).attr("fill", "#ff0000");
svg.append("text")
    .attr("transform", "translate(133,708) rotate(-90)")
    .attr("text-anchor", "middle")
    .attr("font-family", FONT)
    .attr("font-weight", "bold")
    .attr("font-size", 127)
    .attr("fill", "#fff")
    .text("BrO intensity");

// the original figure is stretched horizontally, so text gets an x-scale
function label(g, x, y, str, size, sx, anchor, fill, weight) {
    return g.append("text")
        .attr("transform", `translate(${x},${y}) scale(${sx},1)`)
        .attr("text-anchor", anchor || "middle")
        .attr("font-family", FONT)
        .attr("font-size", size)
        .attr("font-weight", weight || "normal")
        .attr("fill", fill || "#000")
        .text(str);
}

function vlabel(g, x, y, str, size, ls) {
    return g.append("text")
        .attr("transform", `translate(${x},${y}) rotate(-90) scale(1,1.5)`)
        .attr("text-anchor", "middle")
        .attr("font-family", FONT)
        .attr("font-size", size)
        .attr("letter-spacing", ls)
        .attr("fill", "#000")
        .text(str);
}

function draw_box(g, x, y, minorY, majorY, row, showXLabels) {
    var L = x.range()[0], R = x.range()[1];
    var minorX = d3.range(4, 17.01, 0.5);
    var axes = [
        [d3.axisBottom(x).tickValues(minorX).tickSizeInner(-6), `translate(0,${row.bottom})`],
        [d3.axisBottom(x).tickValues(xTickLabels).tickSizeInner(-12), `translate(0,${row.bottom})`],
        [d3.axisTop(x).tickValues(minorX).tickSizeInner(-6), `translate(0,${row.top})`],
        [d3.axisTop(x).tickValues(xTickLabels).tickSizeInner(-12), `translate(0,${row.top})`],
        [d3.axisLeft(y).tickValues(minorY).tickSizeInner(-7), `translate(${L},0)`],
        [d3.axisLeft(y).tickValues(majorY).tickSizeInner(-13), `translate(${L},0)`],
        [d3.axisRight(y).tickValues(minorY).tickSizeInner(-7), `translate(${R},0)`],
        [d3.axisRight(y).tickValues(majorY).tickSizeInner(-13), `translate(${R},0)`]
    ];
    axes.forEach(function (a) {
        var ag = g.append("g").attr("transform", a[1])
            .call(a[0].tickSizeOuter(0).tickFormat(""));
        ag.select(".domain").remove();
        ag.selectAll(".tick line").attr("stroke", "#000").attr("stroke-width", 2.5);
    });
    g.append("rect")
        .attr("x", L).attr("y", row.top)
        .attr("width", R - L).attr("height", row.bottom - row.top)
        .attr("fill", "none").attr("stroke", "#000").attr("stroke-width", 3);

    if (showXLabels) {
        xTickLabels.forEach(function (v) {
            label(g, x(v), row.bottom + 55, String(v), 36, 1.5);
        });
    }
}

function draw_points(g, x, y, series, scaleY) {
    series.forEach(function (pts, i) {
        g.append("g")
            .attr("stroke", yearColors[i])
            .attr("stroke-width", 2.6)
            .attr("fill", "none")
            .selectAll("path")
            .data(pts)
            .join("path")
            .attr("transform", d => `translate(${x(d[0])},${y(d[1] * scaleY)})`)
            .attr("d", "M-8.5,-6.5L8.5,6.5M-8.5,6.5L8.5,-6.5");
    });
}

panels.forEach(function (p) {
    var g = svg.append("g");
    var x = d3.scaleLinear().domain([4, 17]).range([p.left, p.right]);
    var cx = (p.left + p.right) / 2;

    // title
    label(g, cx, 86, p.title, 46, 1.45);

    // --- RMS panel ---
    var yR = d3.scaleLinear().domain([0.5, 2.0]).range([rowTop.bottom, rowTop.top]);
    draw_points(g, x, yR, p.rms, 1);
    draw_box(g, x, yR, d3.range(0.5, 2.001, 0.1), rmsTickLabels, rowTop, false);
    rmsTickLabels.forEach(function (v) {
        var dy = v === 0.5 ? -5 : 0;
        label(g, p.left - 18, yR(v) + 13 + dy, v.toFixed(1), 36, 1.5, "end");
    });
    vlabel(g, p.left - 131, (rowTop.top + rowTop.bottom) / 2, "RMS [10^13 molc./cm^2]", 37, 3);

    // legend
    years.forEach(function (name, i) {
        label(g, p.left + 418, rowTop.top + 78 + i * 39.5, name, 24, 1.42, "start", yearColors[i], "bold");
    });

    // --- ChiSq panel ---
    var yC = d3.scaleLinear().domain([0, 0.0005]).range([rowBot.bottom, rowBot.top]);
    draw_points(g, x, yC, p.chi, 1e-4);
    draw_box(g, x, yC, d3.range(0, 0.000501, 0.00001), chiTickLabels, rowBot, true);
    chiTickLabels.forEach(function (v) {
        var dy = v === 0.0005 ? 5 : 0;
        label(g, p.left - 18, yC(v) + 13 + dy, v.toFixed(4), 36, 1.5, "end");
    });
    vlabel(g, p.left - 230, (rowBot.top + rowBot.bottom) / 2, "ChiSq", 37, 0);

    // x title
    label(g, cx - 4, 1416, "Fit Window Intensity [10^12 W/m^2]", 37, 1.49);
});

</script>
</body>
</html>
